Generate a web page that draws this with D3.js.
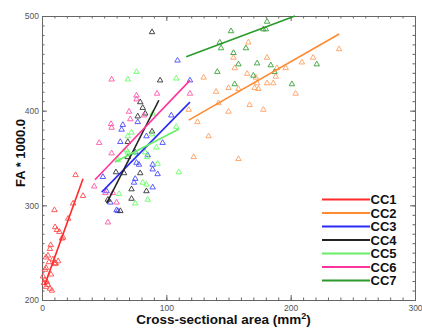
<!DOCTYPE html>
<html><head><meta charset="utf-8">
<script src="https://cdn.jsdelivr.net/npm/d3@7"></script>
<style>
html,body{margin:0;padding:0;background:#fff;}
svg{display:block;font-family:"Liberation Sans",Arial,sans-serif;}
</style></head>
<body>
<svg id="c" width="422" height="328"></svg>
<script>
const seriesNames = ["CC1","CC2","CC3","CC4","CC5","CC6","CC7"];
const lineColors = ["#ff2a2a","#ff8a30","#2a2af5","#222222","#66ee66","#ff3399","#2a9a2a"];
const pointColors = ["#ff4a4a","#ffa060","#4a4aff","#333333","#66ff66","#ff55aa","#3aa03a"];

const cc1X = [27,33,25,10,10.5,12,14,21,17,16,7,6.4,4.8,3.2,8.8,13,11,10.5,3.2,2.4,7.2,2.4,4,4.8,3.2,6.4,8,1.6,0.8,5.6];
const cc1Y = [332,310,302,295,277,274,272,286,266,265,258,254,247,245,243,241,239,238,234,232,227,221,219,216,214,212,210,218,225,240];
const cc2X = [166,154,181,155,165,130,172,196,189,188,209,173,181,186,158,171,174,150,140,204,142,167,178,150,118,125,134,239,218,122,158];
const cc2Y = [472,456,456,445,439,435,435,445,445,436,451,429,429,429,423,424,423,424,420,418,408,406,401,399,401,388,373,465,456,351,349];
const cc3X = [109,119,104,65,64,77,84,63,97,75,85,76,89,89,93,75,74,89,49,78,55,60,61,52];
const cc3Y = [453,432,395,385,380,388,373,367,366,356,353,345,343,338,333,328,324,319,330,343,303,295,294,315];
const cc4X = [88.5,95,79,81,77,83,69,88.5,69,59.5,66,79,72,84,72,53,63];
const cc4Y = [483,432,409,403,394,397,367,378,351,335,334,334,317,315,307,306,294];
const cc5X = [76,69,108,89,108,69,72,88.5,92,83,61,69,76,84.5,93,110,81,84,85,75,62,68];
const cc5Y = [441,433,434,397,383,373,377,375,361,356,348,356,355,351,344,335,324,322,306,302,312,358];
const cc6X = [56,76,76,92.5,119,70,82,71,55.5,56,46,56,42,51,57,60,53];
const cc6Y = [433,416,412,418,418,399,395,391,386,382,366,355,320,313,313,303,282];
const cc7X = [181,178,180,152,143,144,154,164,158,173,184,141,170,155,187,201,221];
const cc7Y = [494,486,486,484,472,466,461,466,449,450,448,441,437,428,441,428,449];

// fitted line endpoints per series (x0,y0)-(x1,y1)
const fitX0 = [2.2,118,48,52,58.7,42.6,116];
const fitY0 = [216,390,314,302,345.8,327,457];
const fitX1 = [33,239,119,94,110.2,119,203.5];
const fitY1 = [328,481,409,411,380.6,432,500];

const xMajor = [0,100,200,300];
const yMajor = [200,300,400,500];

const xs = [cc1X,cc2X,cc3X,cc4X,cc5X,cc6X,cc7X];
const ys = [cc1Y,cc2Y,cc3Y,cc4Y,cc5Y,cc6Y,cc7Y];

const svg = d3.select("#c");
const L=42, R=415, T=16, B=300;
const x = d3.scaleLinear().domain([0,300]).range([L,R]);
const y = d3.scaleLinear().domain([200,500]).range([B,T]);

const xMinor = d3.range(0,301,10);
const yMinor = d3.range(200,501,10);

function styleAxis(g){
  g.select(".domain").attr("stroke","#666").attr("stroke-width",1);
  g.selectAll(".tick line").attr("stroke","#666");
  g.selectAll(".tick text").attr("fill","#555").style("font-size","8.5px").style("font-family","'Liberation Sans',Arial,sans-serif");
}
// bottom
svg.append("g").attr("transform",`translate(0,${B})`)
  .call(d3.axisBottom(x).tickValues(xMinor).tickSize(-2.5).tickFormat("")).call(styleAxis);
svg.append("g").attr("transform",`translate(0,${B})`)
  .call(d3.axisBottom(x).tickValues(xMajor).tickSize(-5).tickPadding(5).tickFormat(d3.format("d"))).call(styleAxis);
// top
svg.append("g").attr("transform",`translate(0,${T})`)
  .call(d3.axisTop(x).tickValues(xMinor).tickSize(-2.5).tickFormat("")).call(styleAxis);
svg.append("g").attr("transform",`translate(0,${T})`)
  .call(d3.axisTop(x).tickValues(xMajor).tickSize(-5).tickFormat("")).call(styleAxis);
// left
svg.append("g").attr("transform",`translate(${L},0)`)
  .call(d3.axisLeft(y).tickValues(yMinor).tickSize(-2.5).tickFormat("")).call(styleAxis);
svg.append("g").attr("transform",`translate(${L},0)`)
  .call(d3.axisLeft(y).tickValues(yMajor).tickSize(-5).tickPadding(3).tickFormat(d3.format("d"))).call(styleAxis);
// right
svg.append("g").attr("transform",`translate(${R},0)`)
  .call(d3.axisRight(y).tickValues(yMinor).tickSize(-2.5).tickFormat("")).call(styleAxis);
svg.append("g").attr("transform",`translate(${R},0)`)
  .call(d3.axisRight(y).tickValues(yMajor).tickSize(-5).tickFormat("")).call(styleAxis);

const tri = d3.symbol().type(d3.symbolTriangle).size(13);

seriesNames.forEach((name,i)=>{
  const pts = xs[i].map((v,j)=>({x:v,y:ys[i][j]}));
  svg.append("g").selectAll("path").data(pts).join("path")
    .attr("d",tri)
    .attr("transform",d=>`translate(${x(d.x)},${y(d.y)})`)
    .attr("fill","none").attr("stroke",pointColors[i]).attr("stroke-width",0.9);
});
seriesNames.forEach((name,i)=>{
  svg.append("line")
    .attr("x1",x(fitX0[i])).attr("y1",y(fitY0[i]))
    .attr("x2",x(fitX1[i])).attr("y2",y(fitY1[i]))
    .attr("stroke",lineColors[i]).attr("stroke-width",1.6);
});

// legend
const lg = svg.append("g");
seriesNames.forEach((name,i)=>{
  const yy = 199.5 + i*13.5;
  lg.append("line").attr("x1",322).attr("x2",370).attr("y1",yy).attr("y2",yy)
    .attr("stroke",lineColors[i]).attr("stroke-width",1.8);
  lg.append("text").attr("x",370.5).attr("y",yy).attr("dy","0.36em")
    .style("font-size","13px").style("font-weight","bold").attr("fill","#111").text(name);
});

// axis titles
svg.append("text").attr("x",(L+R)/2 - 5).attr("y",324).attr("text-anchor","middle")
  .style("font-size","13.5px").style("font-weight","bold").attr("fill","#111")
  .call(t=>{ t.append("tspan").text("Cross-sectional area (mm");
             t.append("tspan").attr("dy","-5").style("font-size","9px").text("2");
             t.append("tspan").attr("dy","5").text(")"); });
svg.append("text").attr("transform","translate(25,153) rotate(-90)").attr("text-anchor","middle")
  .style("font-size","13px").style("font-weight","bold").attr("fill","#111").text("FA * 1000.0");
</script>
</body></html>
